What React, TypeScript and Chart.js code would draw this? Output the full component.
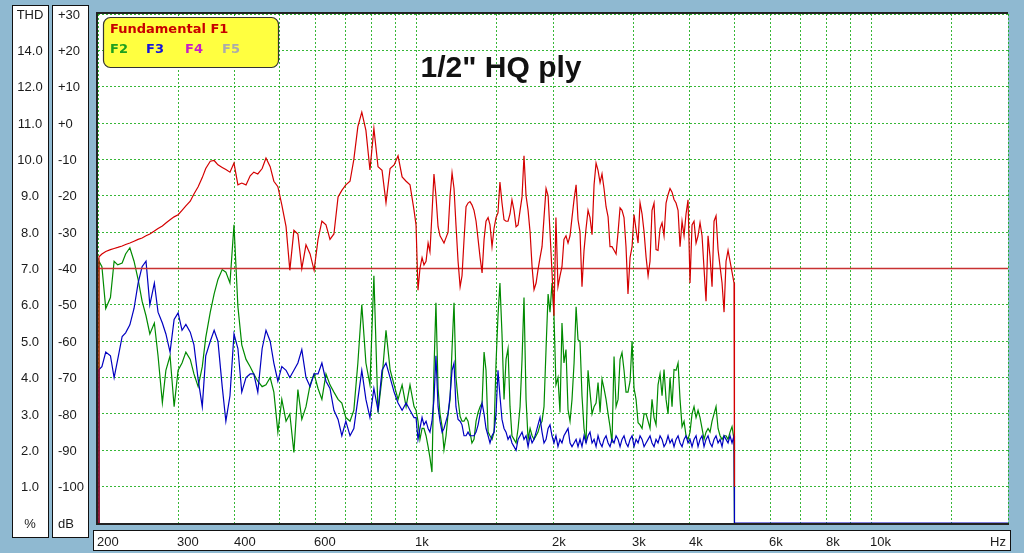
import React, { useEffect, useRef } from "react";
import { Chart, registerables } from "chart.js";

Chart.register(...registerables);

// Frequencies (Hz) shared by the three harmonic curves
const freqHz = [
  200,
  201, 204, 208, 213, 217, 221, 226, 230, 235, 240,
  245, 250, 255, 260, 266, 271, 277, 282, 288, 294,
  300, 306, 312, 319, 325, 332, 339, 345, 353, 360,
  367, 375, 382, 390, 398, 406, 414, 423, 432, 440,
  449, 459, 468, 478, 487, 497, 507, 518, 528, 539,
  550, 561, 573, 585, 597, 609, 621, 634, 647, 660,
  674, 687, 701, 716, 730, 745, 760, 776, 792, 808,
  825, 842, 859, 877, 895, 913, 932, 951, 970,
  990, 1000, 1010, 1020, 1031, 1041, 1052, 1063, 1073, 1084,
  1095, 1106, 1118, 1129, 1141, 1152, 1164, 1176, 1188, 1200,
  1212, 1224, 1237, 1250, 1262, 1275, 1288, 1301, 1314, 1327,
  1341, 1355, 1369, 1383, 1397, 1411, 1425, 1440, 1454, 1469,
  1484, 1499, 1514, 1529, 1545, 1561, 1577, 1593, 1609, 1625,
  1642, 1659, 1676, 1693, 1710, 1727, 1745, 1763, 1781, 1799,
  1817, 1836, 1854, 1873, 1892, 1911, 1931, 1951, 1970, 1990,
  2010, 2030, 2051, 2072, 2093, 2114, 2136, 2158, 2180, 2202,
  2225, 2248, 2270, 2293, 2316, 2340, 2364, 2388, 2412, 2437,
  2462, 2487, 2512, 2538, 2563, 2589, 2616, 2643, 2669, 2696,
  2724, 2752, 2780, 2808, 2836, 2865, 2894, 2923, 2954, 2984,
  3014, 3045, 3076, 3107, 3139, 3171, 3203, 3236, 3268, 3301,
  3335, 3369, 3403, 3438, 3473, 3508, 3544, 3580, 3616, 3653,
  3690, 3728, 3766, 3804, 3843, 3882, 3921, 3961, 4001, 4042,
  4083, 4125, 4167, 4209, 4252, 4295, 4339, 4383, 4428, 4473,
  4518, 4564, 4611, 4658, 4705, 4753, 4801, 4850, 4899, 4949,
  4999,
  5010, 20000,
];

// Fundamental F1 (dB)
const f1Db = [
  -110,
  -36.8, -36.0, -35.3, -34.8, -34.5, -34.2, -33.8, -33.4, -33.0, -32.5,
  -32.0, -31.6, -31.0, -30.5, -29.7, -29.0, -28.3, -27.5, -26.6, -25.8,
  -25.2, -24.0, -22.8, -21.5, -19.5, -17.5, -15.0, -12.5, -10.5, -10.3,
  -11.5, -12.2, -12.8, -13.5, -11.0, -17.0, -16.5, -17.0, -14.5, -13.5,
  -14.0, -12.5, -9.6, -12.0, -16.0, -17.5, -22.5, -28.5, -40.5, -29.5,
  -30.5, -40.0, -33.5, -36.0, -40.5, -32.0, -27.0, -28.0, -32.0, -30.5,
  -20.3, -18.5, -17.0, -16.0, -10.0, -1.0, 3.0, -2.0, -12.9, -1.5,
  -12.0, -13.0, -21.9, -12.5, -11.5, -9.0, -14.8, -16.0, -17.0,
  -24, -28, -46, -40, -37, -39, -38, -33, -35.4, -25,
  -14, -20, -28.5, -31, -32, -33, -31.5, -30, -20, -13.7,
  -18, -28, -38, -45, -42, -32, -23, -22, -21.6, -22.5,
  -24, -27, -32, -37, -41.2, -32, -27, -26, -28, -34,
  -29, -26, -24.7, -16.2, -22, -26.6, -27, -27, -25, -21.1,
  -24, -28.5, -28, -24, -20.3, -9, -20, -24, -30, -39.5,
  -45.8, -44, -40.3, -37, -34, -26, -18, -20, -30, -41,
  -53, -26, -45, -42, -39.5, -32, -31, -33, -31, -26,
  -21, -17, -26.6, -30, -45, -35, -29, -24, -26, -30.7,
  -17, -11, -13, -16.4, -14, -18, -23, -25.8, -34, -34,
  -35, -36, -30, -23.3, -24, -26, -34, -47, -37, -34,
  -25.2, -29.3, -33, -21.9, -25, -30, -36.8, -42, -38, -24,
  -22, -34.8, -35, -29, -27.4, -31, -22, -19.7, -18, -19,
  -21, -22, -24, -34, -27, -31, -25, -21.1, -44, -28,
  -27, -33, -31, -27.4, -31, -40, -49, -31, -36.8, -45,
  -27, -25.5, -34.8, -39.5, -44, -52, -38, -35, -38, -41,
  -44,
  -100, null,
];

// Second harmonic F2 (dB)
const f2Db = [
  -110,
  -38, -39.5, -51, -48, -38, -39, -38.5, -36, -34.3, -38,
  -43, -49, -53, -58, -55, -64, -76.9, -68, -64, -78,
  -68, -66, -63, -65, -69, -72.5, -67, -59, -52, -47,
  -43, -40.3, -41, -44, -28, -50.5, -61, -65, -67, -69,
  -71, -72.5, -72, -70, -74, -85, -76, -82, -80, -90.6,
  -73.3, -81.5, -78, -72, -69, -73, -76, -69, -72, -74,
  -76, -77, -81, -82, -79, -66, -50, -66, -72, -42,
  -79.6, -70, -57, -67.8, -72, -76, -72, -78, -72,
  -78, -79, -82, -87, -84, -84, -86, -89, -92, -96,
  -68, -49.4, -73, -80, -83.5, -89.8, -86, -80, -76, -62,
  -49.4, -70, -76, -80.7, -82, -82, -81, -82, -85, -88,
  -87, -82, -79.6, -78, -76.9, -63, -68, -85, -86, -87,
  -85, -66, -53, -44, -58, -76, -65, -62, -78, -86,
  -87, -88, -84, -78, -65, -48, -76, -87, -84, -86,
  -87, -86, -85, -83, -82, -78, -62, -47, -52, -44,
  -53, -72, -70, -79.6, -55, -66, -62.3, -78.8, -82, -76,
  -66, -50.5, -59.6, -60, -75, -84, -88, -68, -74, -80,
  -78, -77, -71.4, -79.6, -70.5, -73, -76, -80, -83.5, -88,
  -64.2, -78, -76, -65, -63.1, -68, -74, -74, -71, -60,
  -73, -76, -82.4, -83, -84, -80, -80, -82, -84, -76,
  -81, -83, -72, -69, -75, -67.8, -76, -80, -70, -78,
  -67.8, -68, -66, -76, -83.5, -82, -86, -87, -85, -80,
  -78, -81, -79, -81, -84, -87, -85, -84, -85, -82,
  -80, -78, -84, -86, -87, -86, -86, -87, -85, -83.5,
  -87,
  -110, null,
];

// Third harmonic F3 (dB)
const f3Db = [
  -110,
  -67.8, -67, -63, -64, -70, -65, -58.7, -57.7, -55.5, -51,
  -44, -39.5, -38, -50, -44, -52, -55, -58, -63, -54,
  -52.2, -57, -55.4, -57.5, -61, -70.5, -78, -64, -60, -57,
  -60, -72.5, -82, -75, -58, -62, -74, -70, -69, -69,
  -74, -62, -57, -60, -66, -71, -67, -68, -70, -68,
  -66, -62.3, -70, -72.5, -69, -69, -66, -71, -73, -79,
  -81.5, -86, -82, -86, -84, -76, -68, -76, -81, -73,
  -79, -68, -66, -70, -74, -77, -79, -77, -79,
  -81, -81, -87, -84, -81, -83, -82, -84, -85, -82,
  -76, -64, -78, -82, -85, -84, -82, -80, -75, -68,
  -66, -78, -81.5, -82, -83, -86, -86, -85, -86, -86,
  -86, -85, -83, -80, -77, -80, -84, -86, -88, -86,
  -85, -80, -68, -75, -81.5, -84, -85, -87, -86, -88,
  -89, -90, -87, -86, -85, -87, -86, -89, -86, -88,
  -87, -85, -83, -81, -85, -88, -87, -84, -83, -86,
  -88, -86, -89, -87, -88, -86, -85, -84, -88, -89,
  -88, -87, -89, -87, -89, -86, -88, -86, -85, -88,
  -87, -89, -86, -88, -89, -87, -86, -88, -89, -87,
  -88, -86, -87, -89, -87, -86, -88, -89, -87, -86,
  -89, -87, -88, -86, -87, -89, -88, -87, -86, -88,
  -89, -87, -88, -86, -87, -89, -88, -86, -88, -87,
  -89, -87, -86, -88, -89, -87, -86, -88, -87, -89,
  -87, -86, -89, -87, -86, -89, -87, -86, -88, -89,
  -87, -86, -88, -87, -89, -86, -87, -88, -86, -88,
  -86,
  -110, -110,
];

// Red reference line
const thresholdHz = [200, 20000];
const thresholdDb = [-40, -40];

// Left-hand scales
const dbLevels = [30, 20, 10, 0, -10, -20, -30, -40, -50, -60, -70, -80, -90, -100, -110];
const dbLabels = ["+30", "+20", "+10", "+0", "-10", "-20", "-30", "-40", "-50", "-60", "-70", "-80", "-90", "-100", "dB"];
const thdLabels = ["THD", "14.0", "12.0", "11.0", "10.0", "9.0", "8.0", "7.0", "6.0", "5.0", "4.0", "3.0", "2.0", "1.0", "%"];

// Bottom scale labels
const xTickHz = [200, 300, 400, 600, 1000, 2000, 3000, 4000, 6000, 8000, 10000];
const xTickLabels = ["200", "300", "400", "600", "1k", "2k", "3k", "4k", "6k", "8k", "10k"];
const xUnit = "Hz";

const legendTitle = "Fundamental F1";
const legendItems = ["F2", "F3", "F4", "F5"];
const legendColors = ["#1ea01e", "#1414dc", "#c81ec8", "#ababab"];
const chartTitle = '1/2" HQ ply';

const BG = "#8fb9d1";
const TXT = "#1a1a1a";
const SMALL_FONT = '13px "Liberation Sans", Arial, sans-serif';

function pts(xs: number[], ys: (number | null)[]) {
  return xs.map((x, i) => ({ x, y: ys[i] }));
}

const framePlugin = {
  id: "framePlugin",
  beforeDraw(chart: any) {
    const { ctx, chartArea: a } = chart;
    const ys = chart.scales.y;
    const xs = chart.scales.x;
    ctx.save();
    ctx.fillStyle = BG;
    ctx.fillRect(0, 0, chart.width, chart.height);
    ctx.fillStyle = "#ffffff";
    ctx.fillRect(a.left, a.top, a.right - a.left, a.bottom - a.top);

    // side boxes
    ctx.lineWidth = 1;
    ctx.strokeStyle = "#111";
    ctx.fillStyle = "#ffffff";
    ctx.fillRect(12, 5, 36, 532);
    ctx.strokeRect(12.5, 5.5, 36, 532);
    ctx.fillRect(52, 5, 36, 532);
    ctx.strokeRect(52.5, 5.5, 36, 532);
    // bottom box
    ctx.fillRect(93, 530, 917, 20);
    ctx.strokeRect(93.5, 530.5, 917, 20);

    ctx.font = SMALL_FONT;
    ctx.fillStyle = TXT;
    ctx.textBaseline = "middle";
    dbLevels.forEach((lv, i) => {
      const y = ys.getPixelForValue(lv) + 1;
      ctx.textAlign = "center";
      ctx.fillText(thdLabels[i], 30, y);
      ctx.textAlign = "left";
      ctx.fillText(dbLabels[i], 58, y);
    });

    ctx.textBaseline = "alphabetic";
    ctx.textAlign = "left";
    xTickHz.forEach((hz, i) => {
      const x = xs.getPixelForValue(hz);
      ctx.fillText(xTickLabels[i], x - 1, 546);
    });
    ctx.textAlign = "right";
    ctx.fillText(xUnit, 1006, 546);
    ctx.restore();
  },
  afterDraw(chart: any) {
    const { ctx, chartArea: a } = chart;
    ctx.save();
    // plot frame
    ctx.strokeStyle = "#222";
    ctx.lineWidth = 2;
    ctx.beginPath();
    ctx.moveTo(a.right, a.top - 1);
    ctx.lineTo(a.left - 1, a.top - 1);
    ctx.lineTo(a.left - 1, a.bottom + 1);
    ctx.lineTo(a.right + 1, a.bottom + 1);
    ctx.stroke();

    // legend box
    ctx.beginPath();
    const r: any = ctx;
    if (r.roundRect) r.roundRect(103.5, 17.5, 175, 50, 7);
    else ctx.rect(103.5, 17.5, 175, 50);
    ctx.fillStyle = "#ffff40";
    ctx.fill();
    ctx.lineWidth = 1.2;
    ctx.strokeStyle = "#333";
    ctx.stroke();

    ctx.font = 'bold 13px "DejaVu Sans", sans-serif';
    ctx.textAlign = "left";
    ctx.textBaseline = "alphabetic";
    ctx.fillStyle = "#c80000";
    ctx.fillText(legendTitle, 110, 33);
    const lx = [110, 146, 185, 222];
    legendItems.forEach((t, i) => {
      ctx.fillStyle = legendColors[i];
      ctx.fillText(t, lx[i], 53);
    });

    // title
    ctx.font = 'bold 30px "Liberation Sans", Arial, sans-serif';
    ctx.fillStyle = "#111";
    ctx.textAlign = "center";
    ctx.fillText(chartTitle, 501, 77);
    ctx.restore();
  },
};

export default function App() {
  const ref = useRef<HTMLCanvasElement | null>(null);

  useEffect(() => {
    if (!ref.current) return;
    const gridStyle = { color: "rgba(20,170,20,0.85)", lineWidth: 1, drawTicks: false };
    const chart = new Chart(ref.current, {
      type: "line",
      data: {
        datasets: [
          {
            label: "F1",
            data: pts(freqHz, f1Db),
            borderColor: "#d40000",
            borderWidth: 1.2,
            pointRadius: 0,
            tension: 0,
            spanGaps: false,
          },
          {
            label: "ref",
            data: pts(thresholdHz, thresholdDb),
            borderColor: "#c83232",
            borderWidth: 1.5,
            pointRadius: 0,
          },
          {
            label: "F3",
            data: pts(freqHz, f3Db),
            borderColor: "#0000c0",
            borderWidth: 1.2,
            pointRadius: 0,
            tension: 0,
          },
          {
            label: "F2",
            data: pts(freqHz, f2Db),
            borderColor: "#008a00",
            borderWidth: 1.2,
            pointRadius: 0,
            tension: 0,
          },
        ],
      },
      options: {
        animation: false,
        responsive: false,
        devicePixelRatio: 1,
        layout: { padding: { left: 98, right: 16, top: 14, bottom: 30 } },
        plugins: { legend: { display: false }, tooltip: { enabled: false } },
        scales: {
          x: {
            type: "logarithmic",
            min: 200,
            max: 20000,
            ticks: { display: false },
            grid: gridStyle,
            border: { display: false, dash: [2, 2] },
          },
          y: {
            type: "linear",
            min: -110,
            max: 30,
            ticks: { display: false, stepSize: 10 },
            grid: gridStyle,
            border: { display: false, dash: [2, 2] },
          },
        },
      } as any,
      plugins: [framePlugin],
    });
    return () => chart.destroy();
  }, []);

  return (
    <div style={{ position: "fixed", left: 0, top: 0, width: 1024, height: 553, background: BG }}>
      <canvas ref={ref} width={1024} height={553} style={{ display: "block" }} />
    </div>
  );
}
